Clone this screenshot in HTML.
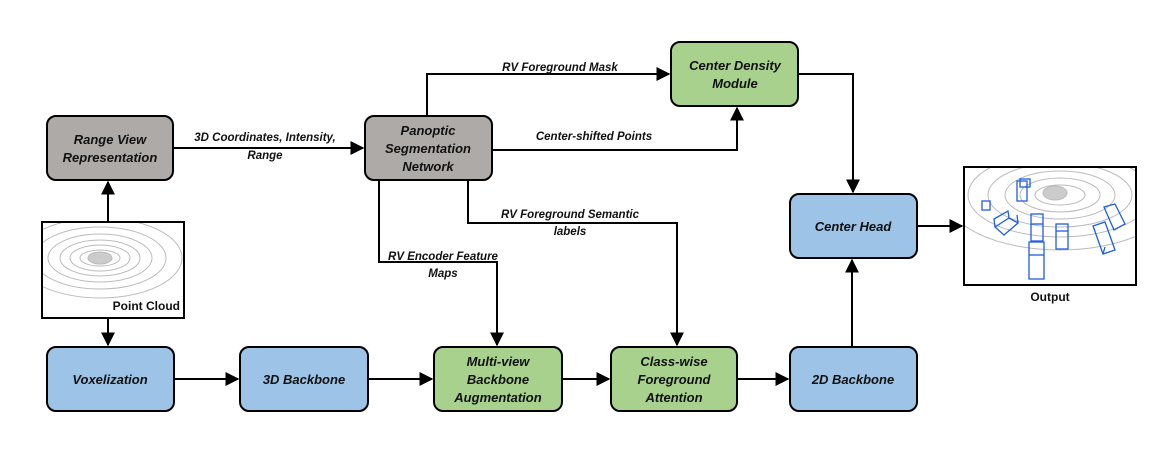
<!DOCTYPE html>
<html><head><style>
body{margin:0;background:#fff;}
svg{display:block;}
text{font-family:"Liberation Sans",sans-serif;font-weight:bold;font-style:italic;fill:#111;}
</style></head><body>
<svg width="1171" height="468" viewBox="0 0 1171 468" xmlns="http://www.w3.org/2000/svg">
<defs>
<marker id="a" viewBox="0 0 10 10" refX="9" refY="5" markerWidth="7" markerHeight="7" orient="auto"><path d="M0,0L10,5L0,10z" fill="#000"/></marker>
<clipPath id="c1"><rect x="43" y="223" width="140" height="94"/></clipPath>
<clipPath id="c2"><rect x="965" y="168" width="170" height="116"/></clipPath>
</defs>
<g stroke="#000" stroke-width="2" fill="none">
<path d="M108,222V182" marker-end="url(#a)"/>
<path d="M108,318V345" marker-end="url(#a)"/>
<path d="M173,148H363" marker-end="url(#a)"/>
<path d="M427,116V74H669" marker-end="url(#a)"/>
<path d="M492,150H737V108" marker-end="url(#a)"/>
<path d="M379,180V262H497V345" marker-end="url(#a)"/>
<path d="M468,180V223H677V345" marker-end="url(#a)"/>
<path d="M798,74H853V192" marker-end="url(#a)"/>
<path d="M917,226H962" marker-end="url(#a)"/>
<path d="M852,347V260" marker-end="url(#a)"/>
<path d="M174,379H238" marker-end="url(#a)"/>
<path d="M368,379H432" marker-end="url(#a)"/>
<path d="M562,379H609" marker-end="url(#a)"/>
<path d="M737,379H788" marker-end="url(#a)"/>
</g>
<g stroke="#000" stroke-width="2">
<rect x="47" y="116" width="126" height="64" rx="9" fill="#aeaaa8"/>
<rect x="365" y="116" width="127" height="64" rx="9" fill="#aeaaa8"/>
<rect x="671" y="42" width="127" height="64" rx="9" fill="#a9d18e"/>
<rect x="790" y="194" width="127" height="64" rx="9" fill="#9dc3e6"/>
<rect x="47" y="347" width="127" height="64" rx="9" fill="#9dc3e6"/>
<rect x="240" y="347" width="128" height="64" rx="9" fill="#9dc3e6"/>
<rect x="434" y="347" width="128" height="64" rx="9" fill="#a9d18e"/>
<rect x="611" y="347" width="126" height="64" rx="9" fill="#a9d18e"/>
<rect x="790" y="347" width="127" height="64" rx="9" fill="#9dc3e6"/>
</g>
<rect x="42" y="222" width="142" height="96" fill="#fff" stroke="#000" stroke-width="2"/>
<g clip-path="url(#c1)" fill="none" stroke="#bbb" stroke-width="1">
<ellipse cx="100" cy="258" rx="20" ry="8"/><ellipse cx="100" cy="258" rx="30" ry="13"/><ellipse cx="100" cy="258" rx="40" ry="18"/><ellipse cx="100" cy="258" rx="52" ry="24"/><ellipse cx="100" cy="258" rx="66" ry="31"/><ellipse cx="100" cy="258" rx="82" ry="40"/>
<ellipse cx="100" cy="258" rx="12" ry="6" fill="#ccc"/>
</g>
<text x="180" y="310" text-anchor="end" style="font-style:normal" font-size="12">Point Cloud</text>
<rect x="964" y="167" width="172" height="118" fill="#fff" stroke="#000" stroke-width="2"/>
<g clip-path="url(#c2)" fill="none" stroke="#bbb" stroke-width="1">
<ellipse cx="1060" cy="195" rx="25" ry="10"/><ellipse cx="1060" cy="195" rx="40" ry="17"/><ellipse cx="1060" cy="195" rx="55" ry="24"/><ellipse cx="1060" cy="195" rx="72" ry="32"/><ellipse cx="1060" cy="195" rx="92" ry="42"/><ellipse cx="1060" cy="195" rx="115" ry="55"/>
<ellipse cx="1055" cy="193" rx="12" ry="7" fill="#ccc"/>
</g>
<g fill="none" stroke="#1f5fe0" stroke-width="1.3">
<rect x="1017" y="181" width="10" height="20"/><rect x="1020" y="179" width="10" height="8"/>
<rect x="982" y="201" width="8" height="9"/>
<path d="M995,227L1009,218L1018,223L1004,235Z M995,227L994,219L1008,211L1009,218 M1017,215L1018,223"/>
<rect x="1031" y="214" width="12" height="27"/><line x1="1031" y1="224" x2="1043" y2="224"/>
<rect x="1029" y="242" width="15" height="37"/><line x1="1029" y1="255" x2="1044" y2="255"/>
<rect x="1056" y="224" width="12" height="25"/><line x1="1056" y1="231" x2="1068" y2="231"/>
<path d="M1093,226L1105,222L1115,250L1103,254Z M1093,226L1095,231 M1103,254L1105,247"/>
<path d="M1104,207L1115,204L1125,224L1114,230Z"/>
</g>
<text x="1050" y="301" text-anchor="middle" style="font-style:normal" font-size="12">Output</text>
<g font-size="13" text-anchor="middle">
<text x="110" y="144">Range View</text><text x="110" y="162">Representation</text>
<text x="428" y="135">Panoptic</text><text x="428" y="153">Segmentation</text><text x="428" y="171">Network</text>
<text x="735" y="70">Center Density</text><text x="735" y="88">Module</text>
<text x="853" y="231">Center Head</text>
<text x="110" y="384">Voxelization</text>
<text x="304" y="384">3D Backbone</text>
<text x="498" y="366">Multi-view</text><text x="498" y="384">Backbone</text><text x="498" y="402">Augmentation</text>
<text x="674" y="366">Class-wise</text><text x="674" y="384">Foreground</text><text x="674" y="402">Attention</text>
<text x="853" y="384">2D Backbone</text>
</g>
<g font-size="11.5" text-anchor="middle">
<text x="265" y="141">3D Coordinates, Intensity,</text><text x="265" y="159">Range</text>
<text x="560" y="71">RV Foreground Mask</text>
<text x="594" y="140">Center-shifted Points</text>
<text x="570" y="218">RV Foreground Semantic</text><text x="570" y="235">labels</text>
<text x="443" y="260">RV Encoder Feature</text><text x="443" y="277">Maps</text>
</g>
</svg>
</body></html>
